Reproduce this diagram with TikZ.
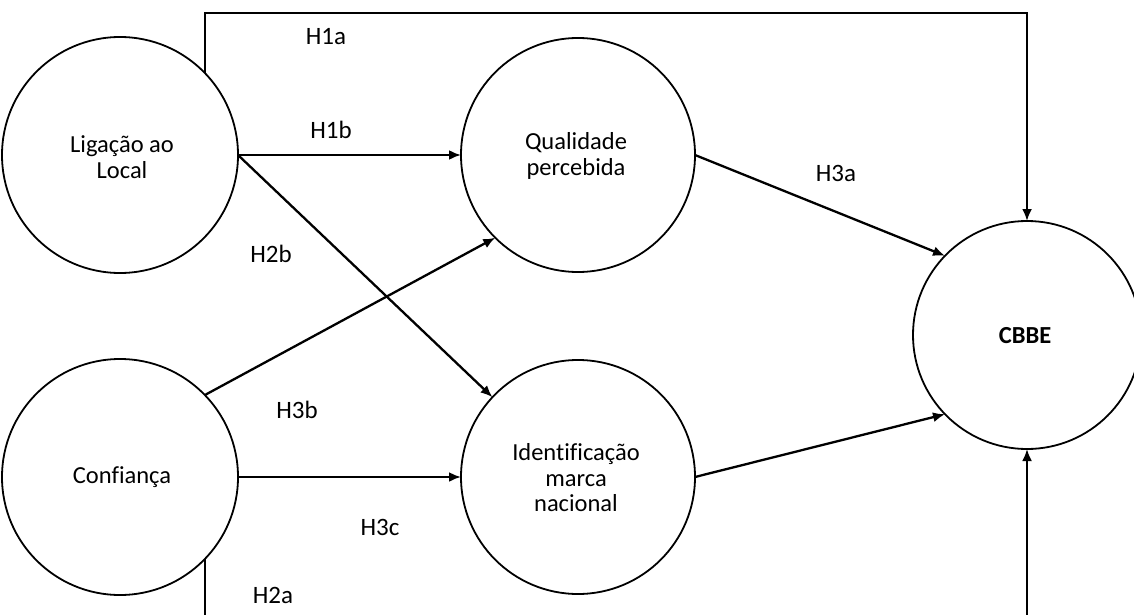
\documentclass[tikz,border=0pt]{standalone}
\usepackage{fontspec}
\setmainfont{Carlito}[Ligatures={NoCommon}]
\usetikzlibrary{arrows.meta}

\tikzset{
  construct/.style={circle, draw, line width=1.8pt, inner sep=0pt, outer sep=0pt,
                    align=center, font=\fontsize{24.5}{25.5}\selectfont},
  hyp/.style={font=\fontsize{25}{27}\selectfont, inner sep=0pt},
  link/.style={line width=2.3pt, -{Latex[length=12pt,width=10pt]}},
}

\begin{document}
\begin{tikzpicture}[x=1pt, y=-1pt]
  \useasboundingbox (0,0) rectangle (1134,615);
  \clip (0,0) rectangle (1134,615);

  % latent constructs
  \node[construct, minimum size=236pt] (lig)   at (120,155) {};
  \node[construct, minimum size=236pt] (conf)  at (120,477) {};
  \node[construct, minimum size=234pt] (qual)  at (578,155) {};
  \node[construct, minimum size=234pt] (ident) at (578,477) {};
  \node[construct, minimum size=228pt] (cbbe)  at (1027,335) {};

  % construct names
  \node[construct, draw=none] at (122,157) {Ligação ao\\Local};
  \node[construct, draw=none] at (122,477) {Confiança};
  \node[construct, draw=none] at (576,156) {Qualidade\\percebida};
  \node[construct, draw=none] at (576,478) {Identificação\\marca\\nacional};
  \node[construct, draw=none] at (1025,336) {\bfseries CBBE};

  % routing points of the outer paths
  \coordinate (topR) at (1027,13);
  \coordinate (botR) at (1027,640);

  % hypothesised paths
  \draw[link] (lig.44) |- (topR) -- (cbbe.north);
  \draw[link] (conf.-44) |- (botR) -- (cbbe.south);
  \draw[link] (lig.east) -- (qual.west);
  \draw[link] (lig.east) -- (ident.137);
  \draw[link] (conf.44) -- (qual.225);
  \draw[link] (conf.east) -- (ident.west);
  \draw[link] (qual.east) -- (cbbe.136);
  \draw[link] (ident.east) -- (cbbe.224);

  % hypothesis labels
  \node[hyp] (h1a) at (326,37)  {H1a};
  \node[hyp] (h1b) at (331,130) {H1b};
  \node[hyp] (h2b) at (271,254) {H2b};
  \node[hyp] (h3a) at (836,173) {H3a};
  \node[hyp] (h3b) at (297,410) {H3b};
  \node[hyp] (h3c) at (380,527) {H3c};
  \node[hyp] (h2a) at (273,595) {H2a};
\end{tikzpicture}
\end{document}
